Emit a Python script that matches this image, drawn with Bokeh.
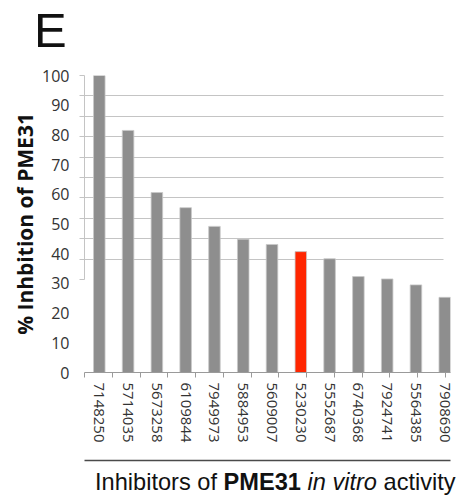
from bokeh.plotting import figure
from bokeh.models import Range1d, LinearAxis, FixedTicker, Grid, Div
from bokeh.layouts import column
from bokeh.embed import file_html
from bokeh.resources import INLINE

# ---- data ----
compound_ids = ["7148250", "5714035", "5673258", "6109844", "7949973", "5884953",
                "5609007", "5230230", "5552687", "6740368", "7924741", "5564385", "7908690"]
inhibition = [100, 81.5, 60.6, 55.5, 49.2, 44.9, 43.1, 40.7, 38.3, 32.3, 31.5, 29.5, 25.3]
highlight_id = "5230230"
y_ticks = [0, 10, 20, 30, 40, 50, 60, 70, 80, 90, 100]
panel_letter = "E"
y_title = "% Inhbition of PME31"
x_title_html = "Inhibitors of <b>PME31</b> <i>in vitro</i> activity"

xpos = list(range(len(compound_ids)))
colors = ["#ff2600" if c == highlight_id else "#8e8e8e" for c in compound_ids]

p = figure(width=467, height=408, output_backend="svg", toolbar_location=None, title=None,
           x_axis_type=None, y_axis_type=None, margin=(0, 0, 0, 0),
           x_range=Range1d(-0.514, 12.2), y_range=Range1d(0, 100),
           min_border_left=84, min_border_right=17, min_border_top=17, min_border_bottom=94)
p.outline_line_color = None

# secondary (pasted) scales of the original graphic
p.extra_y_ranges = {"oy": Range1d(-45.6, 100)}
p.extra_x_ranges = {"ox": Range1d(0, 13.18)}

# gridlines
grid = Grid(dimension=1, ticker=FixedTicker(ticks=y_ticks[1:]), y_range_name="oy",
            grid_line_color="#c4c4c4", grid_line_width=1, cross_bounds=(-0.69, 11.96))
p.add_layout(grid, "center")

# bars
p.vbar(x=xpos, top=inhibition, width=0.4, fill_color=colors, line_color="#c8c8c8", line_width=0.8)

# y overlay axis (line + ticks, no labels)
ay_over = LinearAxis(y_range_name="oy", bounds=(0, 100), ticker=FixedTicker(ticks=y_ticks),
                     major_label_overrides={t: "" for t in y_ticks},
                     axis_line_color="#c4c4c4", major_tick_line_color="#c4c4c4",
                     major_tick_out=5, major_tick_in=0, minor_tick_out=0, minor_tick_in=0,
                     major_label_text_font_size="1px", major_label_standoff=0)
p.add_layout(ay_over, "left")

# y labels axis
ay_lab = LinearAxis(ticker=FixedTicker(ticks=y_ticks), axis_line_color=None,
                    major_tick_line_color=None, minor_tick_line_color=None,
                    major_tick_out=0, major_tick_in=0,
                    major_label_standoff=10, major_label_text_font="Open Sans",
                    major_label_text_font_size="16px", major_label_text_color="#333333",
                    axis_label=y_title, axis_label_text_font="Open Sans",
                    axis_label_text_font_style="bold", axis_label_text_font_size="21px",
                    axis_label_text_color="#111111", axis_label_standoff=0)
p.add_layout(ay_lab, "left")

# x overlay axis (line + ticks)
x_bounds = list(range(len(compound_ids) + 1))
ax_over = LinearAxis(x_range_name="ox", ticker=FixedTicker(ticks=x_bounds),
                     major_label_overrides={t: "" for t in x_bounds},
                     axis_line_color="#9a9a9a", major_tick_line_color="#9a9a9a",
                     major_tick_out=5, major_tick_in=0, minor_tick_out=0, minor_tick_in=0,
                     major_label_text_font_size="1px", major_label_standoff=0)
p.add_layout(ax_over, "below")

# x labels axis
ax_lab = LinearAxis(ticker=FixedTicker(ticks=xpos),
                    major_label_overrides={i: c for i, c in zip(xpos, compound_ids)},
                    axis_line_color=None, major_tick_line_color=None, minor_tick_line_color=None,
                    major_tick_out=0, major_tick_in=0, major_label_orientation="vertical",
                    major_label_standoff=5, major_label_text_font="Open Sans",
                    major_label_text_font_size="15px", major_label_text_color="#333333",
                    axis_label=" ", axis_label_text_font_size="10px", axis_label_standoff=1)
p.add_layout(ax_lab, "below")

# separator line axis
ax_sep = LinearAxis(x_range_name="ox", ticker=FixedTicker(ticks=[]),
                    axis_line_color="#4a4a4a", axis_line_width=1.5,
                    major_tick_out=0, major_tick_in=0, minor_tick_out=0, minor_tick_in=0,
                    major_label_text_font_size="1px", major_label_standoff=0)
p.add_layout(ax_sep, "below")

# panel letter
letter = Div(text=('<div style="font-family:\'Liberation Sans\';font-size:49px;line-height:49px;'
                   'color:#111111;margin-left:34px;margin-top:6px;white-space:nowrap">'
                   + panel_letter + '</div>'),
             width=467, height=58, margin=(0, 0, 0, 0))

# x title with mixed styles
xtitle = Div(text=('<div style="font-family:\'Liberation Sans\';font-size:23.6px;line-height:24px;'
                   'color:#111111;margin-left:95px;margin-top:4px;white-space:nowrap">'
                   + x_title_html + '</div>'),
             width=467, height=31, margin=(0, 0, 0, 0))

layout = column(letter, p, xtitle, spacing=0)
open("out.html", "w").write(file_html(layout, INLINE))
